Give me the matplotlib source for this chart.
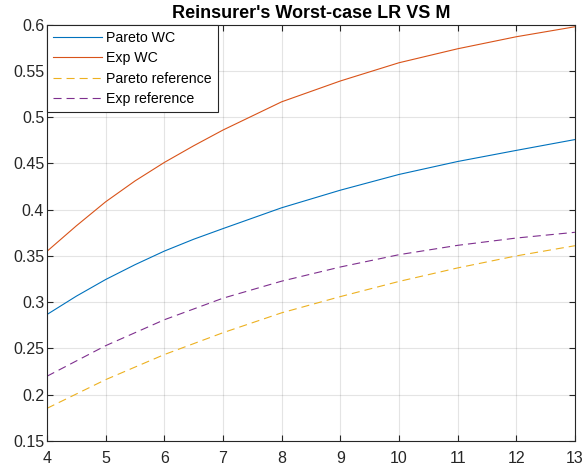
import matplotlib
matplotlib.use('Agg')
import matplotlib.pyplot as plt

# Data
m_wc = [4, 4.5, 5, 5.5, 6, 6.5, 7, 8, 9, 10, 11, 12, 13]
pareto_wc = [0.2867, 0.3065, 0.3245, 0.3405, 0.3552, 0.368, 0.3795, 0.402, 0.421, 0.438, 0.452, 0.464, 0.4757]
exp_wc = [0.355, 0.3825, 0.4085, 0.431, 0.451, 0.469, 0.486, 0.5165, 0.539, 0.5587, 0.5738, 0.5868, 0.5976]

m_ref = [4, 5, 6, 7, 8, 9, 10, 11, 12, 13]
pareto_ref = [0.1853, 0.2163, 0.2434, 0.267, 0.2885, 0.306, 0.3224, 0.337, 0.350, 0.361]
exp_ref = [0.22, 0.253, 0.281, 0.3043, 0.3227, 0.338, 0.3513, 0.3614, 0.3693, 0.3755]

y_ticks = [0.15, 0.2, 0.25, 0.3, 0.35, 0.4, 0.45, 0.5, 0.55, 0.6]
y_tick_labels = ['0.15', '0.2', '0.25', '0.3', '0.35', '0.4', '0.45', '0.5', '0.55', '0.6']

plt.rcParams['font.family'] = ['Liberation Sans', 'DejaVu Sans']
plt.rcParams['lines.scale_dashes'] = False

fig = plt.figure(figsize=(5.82, 4.72), dpi=100)
ax = fig.add_axes([0.0808, 0.0657, 0.907, 0.8823])

dash = (0, (5.8, 3.6))
ax.plot(m_wc, pareto_wc, color=(0, 0.447, 0.741), lw=0.8, label='Pareto WC')
ax.plot(m_wc, exp_wc, color=(0.85, 0.325, 0.098), lw=0.8, label='Exp WC')
ax.plot(m_ref, pareto_ref, color=(0.929, 0.694, 0.125), lw=0.8, ls=dash, label='Pareto reference')
ax.plot(m_ref, exp_ref, color=(0.494, 0.184, 0.556), lw=0.8, ls=dash, label='Exp reference')

ax.set_xlim(4, 13)
ax.set_ylim(0.15, 0.6)
ax.set_xticks(range(4, 14))
ax.set_yticks(y_ticks)
ax.set_yticklabels(y_tick_labels)
ax.grid(True, color=(0.15, 0.15, 0.15), alpha=0.12, lw=0.8)
ax.set_axisbelow(True)
ax.tick_params(direction='in', top=True, right=True, labelsize=11.5, colors=(0.15, 0.15, 0.15), length=4)
ax.tick_params(axis='y', pad=2)
ax.tick_params(axis='x', pad=7)
for sp in ax.spines.values():
    sp.set_color((0.15, 0.15, 0.15))
    sp.set_linewidth(0.8)

ax.set_title("Reinsurer's Worst-case LR VS M", fontsize=13, fontweight='bold', pad=5)

leg = ax.legend(loc='upper left', fontsize=10.2, fancybox=False, framealpha=1, edgecolor=(0.15, 0.15, 0.15),
                borderaxespad=0, handlelength=3.4, borderpad=0.45, labelspacing=0.45, handletextpad=0.3)
leg.get_frame().set_linewidth(0.8)

fig.savefig('out.png', dpi=100)
